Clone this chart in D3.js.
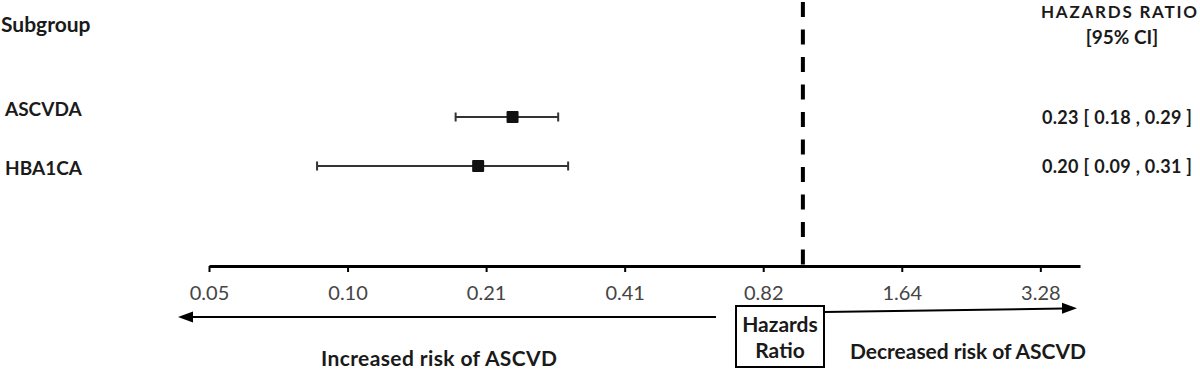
<!DOCTYPE html>
<html>
<head>
<meta charset="utf-8">
<script src="https://cdn.jsdelivr.net/npm/d3@7"></script>
<style>
  body { margin: 0; background: #fff; }
  svg { display: block; font-family: Lato, "Noto Sans", sans-serif; }
</style>
</head>
<body>
<svg></svg>
<script>
// forest plot data
let subgroups = ["ASCVDA", "HBA1CA"]
let hazardRatios = [0.234, 0.197]
let lowerCI = [0.176, 0.088]
let upperCI = [0.294, 0.309]
let referenceValue = 1

// axis ticks (doublings of 0.82)
let tickValues = [0.05125, 0.1025, 0.205, 0.41, 0.82, 1.64, 3.28]
let tickLabels = ["0.05", "0.10", "0.21", "0.41", "0.82", "1.64", "3.28"]

let width = 1200
let height = 369
let axisY = 266

let xScale
let yScale

let svg = d3.select("svg")

let drawCanvas = function() {
  svg.attr("width", width)
  svg.attr("height", height)
}

let generateScales = function() {
  xScale = d3.scaleLog()
             .base(2)
             .domain([0.05125, 4])
             .range([209, 1080])

  yScale = d3.scalePoint()
             .domain(subgroups)
             .range([117, 166])
}

// headers and row labels
let drawLabels = function() {
  svg.append("text")
     .attr("x", 1)
     .attr("y", 32)
     .style("font-size", "21px")
     .style("font-weight", "bold")
     .style("fill", "#1a1a1a")
     .text("Subgroup")

  svg.append("text")
     .attr("x", 1041)
     .attr("y", 18)
     .attr("textLength", 156)
     .attr("lengthAdjust", "spacing")
     .style("font-size", "17px")
     .style("font-weight", "bold")
     .style("fill", "#1a1a1a")
     .text("HAZARDS RATIO")

  svg.append("text")
     .attr("x", 1122)
     .attr("y", 44)
     .attr("text-anchor", "middle")
     .style("font-size", "19px")
     .style("font-weight", "bold")
     .style("fill", "#1a1a1a")
     .text("[95% CI]")

  // left labels sit a bit off the row centre in the original
  let labelBaselines = [116, 175]
  svg.selectAll(".row-label")
     .data(subgroups)
     .enter()
     .append("text")
     .attr("class", "row-label")
     .attr("x", 5)
     .attr("y", (d, i) => labelBaselines[i])
     .style("font-size", "19px")
     .style("font-weight", "bold")
     .style("fill", "#1a1a1a")
     .text((d) => d)

  svg.selectAll(".ci-text")
     .data(subgroups)
     .enter()
     .append("text")
     .attr("class", "ci-text")
     .attr("x", 1042)
     .attr("y", (d) => yScale(d) + 7)
     .attr("textLength", 150)
     .attr("lengthAdjust", "spacing")
     .style("font-size", "18px")
     .style("font-weight", "bold")
     .style("fill", "#1a1a1a")
     .text((d, i) => hazardRatios[i].toFixed(2) + " [ " + lowerCI[i].toFixed(2) + " , " + upperCI[i].toFixed(2) + " ]")
}

// reference line at HR = 1
let drawReference = function() {
  svg.append("line")
     .attr("x1", xScale(referenceValue))
     .attr("x2", xScale(referenceValue))
     .attr("y1", 2)
     .attr("y2", axisY)
     .style("stroke", "#000")
     .style("stroke-width", 4)
     .style("stroke-dasharray", "15,12.5")
}

// error bars and squares
let drawRows = function() {
  let rows = svg.append("g").attr("id", "rows")
  let capHalf = 4.5
  let box = 12

  rows.selectAll(".ci-line")
      .data(subgroups)
      .enter()
      .append("line")
      .attr("class", "ci-line")
      .attr("x1", (d, i) => xScale(lowerCI[i]))
      .attr("x2", (d, i) => xScale(upperCI[i]))
      .attr("y1", (d) => yScale(d))
      .attr("y2", (d) => yScale(d))
      .style("stroke", "#333")
      .style("stroke-width", 2)

  rows.selectAll(".cap-lo")
      .data(subgroups)
      .enter()
      .append("line")
      .attr("class", "cap-lo")
      .attr("x1", (d, i) => xScale(lowerCI[i]))
      .attr("x2", (d, i) => xScale(lowerCI[i]))
      .attr("y1", (d) => yScale(d) - capHalf)
      .attr("y2", (d) => yScale(d) + capHalf)
      .style("stroke", "#333")
      .style("stroke-width", 2)

  rows.selectAll(".cap-hi")
      .data(subgroups)
      .enter()
      .append("line")
      .attr("class", "cap-hi")
      .attr("x1", (d, i) => xScale(upperCI[i]))
      .attr("x2", (d, i) => xScale(upperCI[i]))
      .attr("y1", (d) => yScale(d) - capHalf)
      .attr("y2", (d) => yScale(d) + capHalf)
      .style("stroke", "#333")
      .style("stroke-width", 2)

  rows.selectAll(".point")
      .data(subgroups)
      .enter()
      .append("rect")
      .attr("class", "point")
      .attr("x", (d, i) => xScale(hazardRatios[i]) - box / 2)
      .attr("y", (d) => yScale(d) - box / 2)
      .attr("width", box)
      .attr("height", box)
      .attr("rx", 1)
      .style("fill", "#111")
}

let generateAxis = function() {
  let xAxis = d3.axisBottom(xScale)
                .tickValues(tickValues)
                .tickFormat((d, i) => tickLabels[i])
                .tickSizeInner(6)
                .tickSizeOuter(0)
                .tickPadding(14)

  let g = svg.append("g")
             .attr("id", "x-axis")
             .attr("transform", "translate(0," + axisY + ")")
             .call(xAxis)

  g.select(".domain").style("stroke", "#000").style("stroke-width", 3)
  g.selectAll(".tick line").style("stroke", "#000").style("stroke-width", 2)
  g.selectAll(".tick text")
   .style("font-family", "Lato, 'Noto Sans', sans-serif")
   .style("font-size", "20px")
   .style("fill", "#454545")
}

// direction arrows and the "Hazards Ratio" box
let drawAnnotations = function() {
  let head = function(tipX, tipY, dir) {
    let len = 15, half = 5.5
    return "M" + tipX + "," + tipY +
           "L" + (tipX - dir * len) + "," + (tipY - half) +
           "L" + (tipX - dir * len) + "," + (tipY + half) + "Z"
  }

  svg.append("line")
     .attr("x1", 716).attr("y1", 317)
     .attr("x2", 190).attr("y2", 317)
     .style("stroke", "#000").style("stroke-width", 2)
  svg.append("path").attr("d", head(178, 317, -1)).style("fill", "#000")

  svg.append("line")
     .attr("x1", 824).attr("y1", 312)
     .attr("x2", 1064).attr("y2", 308.5)
     .style("stroke", "#000").style("stroke-width", 2)
  svg.append("path").attr("d", head(1077, 308.3, 1)).style("fill", "#000")

  svg.append("rect")
     .attr("x", 736).attr("y", 306)
     .attr("width", 88).attr("height", 61)
     .style("fill", "#fff")
     .style("stroke", "#000")
     .style("stroke-width", 2)

  svg.append("text")
     .attr("x", 780).attr("y", 332)
     .attr("text-anchor", "middle")
     .style("font-size", "21px").style("font-weight", "bold").style("fill", "#1a1a1a")
     .text("Hazards")
  svg.append("text")
     .attr("x", 780).attr("y", 358)
     .attr("text-anchor", "middle")
     .style("font-size", "21px").style("font-weight", "bold").style("fill", "#1a1a1a")
     .text("Ratio")

  svg.append("text")
     .attr("x", 439).attr("y", 366)
     .attr("text-anchor", "middle")
     .attr("textLength", 236)
     .style("font-size", "21px").style("font-weight", "bold").style("fill", "#1a1a1a")
     .text("Increased risk of ASCVD")
  svg.append("text")
     .attr("x", 968).attr("y", 359)
     .attr("text-anchor", "middle")
     .attr("textLength", 236)
     .style("font-size", "21px").style("font-weight", "bold").style("fill", "#1a1a1a")
     .text("Decreased risk of ASCVD")
}

drawCanvas()
generateScales()
drawReference()
generateAxis()
drawRows()
drawLabels()
drawAnnotations()
</script>
</body>
</html>
